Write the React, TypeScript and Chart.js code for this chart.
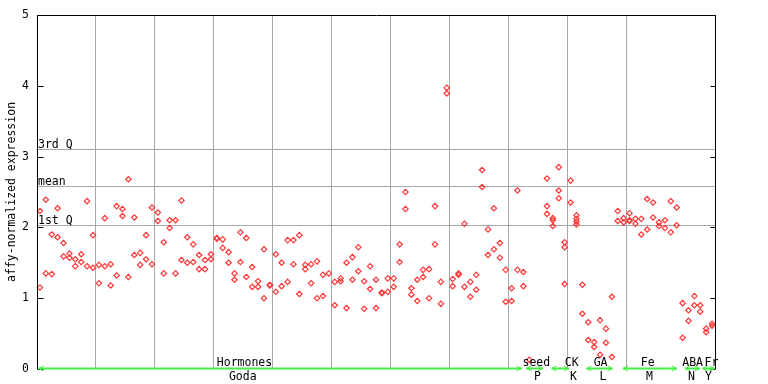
import React, { useEffect, useRef } from 'react';
import { Chart, registerables } from 'chart.js';

Chart.register(...registerables);

// ---- data (sample index 0..114, value = affy-normalized expression) ----
const sampleCount = 115;

const rep1: (number | null)[] = [
  2.23, 2.39, 1.90, 2.27, 1.78, 1.63, 1.55, 1.62, 2.37, 1.89,
  1.47, 2.13, 1.48, 2.30, 2.26, 2.68, 2.14, 1.64, 1.89, 2.28,
  2.21, 1.79, 2.10, 2.10, 2.38, 1.86, 1.76, 1.61, 1.54, 1.62,
  1.84, 1.83, 1.65, 1.35, 1.93, 1.85, 1.44, 1.24, 1.69, 1.19,
  1.62, 1.50, 1.82, 1.82, 1.89, 1.47, 1.48, 1.52, 1.33, 1.35,
  1.23, 1.28, 1.50, 1.58, 1.72, 1.24, 1.45, 1.26, 1.08, 1.28,
  1.28, 1.76, 2.50, 1.14, 1.26, 1.40, 1.41, 2.30, 1.23, 3.97,
  1.27, 1.35, 2.05, 1.23, 1.33, 2.81, 1.97, 2.27, 1.78, 1.40,
  1.14, 2.52, 1.37, 0.13, null, null, 2.69, 2.13, 2.85, 1.79,
  2.66, 2.17, 1.19, 0.66, 0.38, 0.69, 0.57, 1.02, 2.23, 2.13,
  2.20, 2.12, 2.12, 2.40, 2.35, 2.07, 2.10, 2.37, 2.28, 0.93,
  0.83, 1.03, 0.90, 0.57, 0.64,
];

const rep2: (number | null)[] = [
  1.15, 1.35, 1.34, 1.86, 1.59, 1.57, 1.45, 1.51, 1.45, 1.43,
  1.21, 1.45, 1.18, 1.32, 2.16, 1.30, 1.61, 1.47, 1.55, 1.48,
  2.09, 1.35, 1.99, 1.35, 1.54, 1.50, 1.51, 1.41, 1.41, 1.55,
  1.85, 1.71, 1.50, 1.26, 1.51, 1.30, 1.16, 1.16, 1.00, 1.18,
  1.09, 1.17, 1.23, 1.48, 1.06, 1.41, 1.21, 1.00, 1.03, null,
  0.90, 1.24, 0.86, 1.26, 1.38, 0.85, 1.13, 0.86, 1.07, 1.09,
  1.16, 1.51, 2.26, 1.05, 0.96, 1.30, 1.00, 1.76, 0.92, 3.89,
  1.17, 1.33, 1.16, 1.02, 1.12, 2.57, 1.61, 1.69, 1.57, 0.95,
  0.96, 1.40, 1.17, null, null, null, 2.30, 2.10, 2.52, 1.72,
  2.35, 2.12, 0.78, 0.41, 0.31, 0.20, 0.37, 0.17, 2.09, 2.07,
  2.10, 2.05, 1.90, 1.97, 2.14, 2.02, 1.99, 1.93, 2.03, 0.44,
  0.68, 0.90, 0.81, 0.52, 0.61,
];

// extra replicates for a few samples
const rep3Index = [86, 87, 88, 89, 91, 100];
const rep3Value = [2.19, 2.02, 2.41, 1.20, 2.08, 2.09];
const rep4Index = [91];
const rep4Value = [2.04];

const yTickValues = [0, 1, 2, 3, 4, 5];
const refNames = ['3rd Q', 'mean', '1st Q'];
const refValues = [3.10, 2.58, 2.03];

const groupTop = ['Hormones', 'seed', 'CK', 'GA', 'Fe', 'ABA', 'Fr'];
const groupBottom = ['Goda', 'P', 'K', 'L', 'M', 'N', 'Y'];
const groupStart = [0.3, 83.0, 87.3, 93.2, 99.4, 109.9, 112.9];
const groupEnd = [82.2, 85.8, 90.2, 97.6, 108.5, 112.4, 114.9];
const groupTopAt = [35.2, 84.7, 90.7, 95.6, 103.6, 111.2, 114.4];
const groupBottomAt = [34.9, 84.9, 91.0, 96.0, 103.9, 111.0, 113.9];

const yTitle = 'affy-normalized expression';

// ---- helpers ----
const MONO = '"DejaVu Sans Mono", "Liberation Mono", monospace';
const POINT_COLOR = '#ff3636';

function toPoints(vals: (number | null)[]) {
  const out: { x: number; y: number }[] = [];
  vals.forEach((v, i) => {
    if (v !== null && v !== undefined) out.push({ x: i + 0.5, y: v });
  });
  return out;
}
function toPointsIdx(idx: number[], vals: number[]) {
  return idx.map((i, k) => ({ x: i + 0.5, y: vals[k] }));
}

const framePlugin = {
  id: 'framePlugin',
  beforeDatasetsDraw(chart: any) {
    const { ctx, chartArea: a, scales } = chart;
    const y = scales.y;
    ctx.save();
    ctx.strokeStyle = '#a8a8a8';
    ctx.lineWidth = 1;
    ctx.font = `11.5px ${MONO}`;
    ctx.fillStyle = '#000';
    ctx.textAlign = 'left';
    ctx.textBaseline = 'alphabetic';
    refValues.forEach((v, k) => {
      const py = Math.round(y.getPixelForValue(v)) + 0.5;
      ctx.beginPath();
      ctx.moveTo(a.left, py);
      ctx.lineTo(a.right, py);
      ctx.stroke();
      ctx.fillText(refNames[k], a.left + 1, py - 2);
    });
    ctx.restore();
  },
  afterDraw(chart: any) {
    const { ctx, chartArea: a, scales } = chart;
    const x = scales.x;
    const y = scales.y;
    ctx.save();
    // black frame (top, left, right)
    ctx.strokeStyle = '#000';
    ctx.lineWidth = 1;
    const L = Math.round(a.left) + 0.5;
    const R = Math.round(a.right) + 0.5;
    const T = Math.round(a.top) + 0.5;
    const B = Math.round(a.bottom);
    ctx.beginPath();
    ctx.moveTo(L, B);
    ctx.lineTo(L, T);
    ctx.lineTo(R, T);
    ctx.lineTo(R, B);
    ctx.stroke();
    // tick marks pointing inwards
    yTickValues.forEach((v) => {
      const py = Math.round(y.getPixelForValue(v)) + 0.5;
      ctx.beginPath();
      ctx.moveTo(L, py);
      ctx.lineTo(L + 6, py);
      ctx.moveTo(R - 5, py);
      ctx.lineTo(R, py);
      ctx.stroke();
    });
    // green group bars with arrows
    ctx.strokeStyle = '#44ee44';
    ctx.lineWidth = 2;
    const gy = Math.round(a.bottom) - 0.5;
    groupTop.forEach((_, g) => {
      const x1 = x.getPixelForValue(groupStart[g]);
      const x2 = x.getPixelForValue(groupEnd[g]);
      ctx.beginPath();
      ctx.moveTo(x1, gy);
      ctx.lineTo(x2, gy);
      ctx.stroke();
      ctx.lineWidth = 1;
      ctx.beginPath();
      ctx.moveTo(x1 + 5, gy - 2.5);
      ctx.lineTo(x1, gy);
      ctx.lineTo(x1 + 5, gy + 2.5);
      ctx.moveTo(x2 - 5, gy - 2.5);
      ctx.lineTo(x2, gy);
      ctx.lineTo(x2 - 5, gy + 2.5);
      ctx.stroke();
      ctx.lineWidth = 2;
    });
    // group labels
    ctx.fillStyle = '#000';
    ctx.font = `11.5px ${MONO}`;
    ctx.textAlign = 'center';
    ctx.textBaseline = 'alphabetic';
    groupTop.forEach((t, g) => {
      ctx.fillText(t, x.getPixelForValue(groupTopAt[g]), a.bottom - 3);
      ctx.fillText(groupBottom[g], x.getPixelForValue(groupBottomAt[g]), a.bottom + 11);
    });
    // y axis title
    ctx.save();
    ctx.translate(12, (a.top + a.bottom) / 2);
    ctx.rotate(-Math.PI / 2);
    ctx.textAlign = 'center';
    ctx.textBaseline = 'middle';
    ctx.fillText(yTitle, 0, 0);
    ctx.restore();
    ctx.restore();
  },
};

export default function App() {
  const canvasRef = useRef<HTMLCanvasElement | null>(null);

  useEffect(() => {
    const canvas = canvasRef.current;
    if (!canvas) return;
    const ds = (data: { x: number; y: number }[]) => ({
      data,
      pointStyle: 'rectRot' as const,
      pointRadius: 2.7,
      pointBorderWidth: 1.2,
      pointBorderColor: POINT_COLOR,
      pointBackgroundColor: 'rgba(255,255,255,0)',
      borderColor: POINT_COLOR,
      backgroundColor: 'rgba(255,255,255,0)',
      showLine: false,
      clip: false as const,
    });
    const chart = new Chart(canvas, {
      type: 'scatter',
      data: {
        datasets: [
          ds(toPoints(rep1)),
          ds(toPoints(rep2)),
          ds(toPointsIdx(rep3Index, rep3Value)),
          ds(toPointsIdx(rep4Index, rep4Value)),
        ],
      },
      options: {
        animation: false,
        responsive: false,
        devicePixelRatio: 1,
        layout: { padding: { top: 13, right: 53, left: 0, bottom: 0 } },
        plugins: { legend: { display: false }, tooltip: { enabled: false } },
        scales: {
          x: {
            type: 'linear',
            min: 0,
            max: sampleCount,
            ticks: { display: false, stepSize: 10 },
            grid: { color: '#a8a8a8', lineWidth: 1, drawTicks: false },
            border: { display: false },
            afterFit: (s: any) => {
              s.height = 15;
            },
          },
          y: {
            type: 'linear',
            min: 0,
            max: 5,
            ticks: {
              stepSize: 1,
              padding: 8,
              color: '#000',
              font: { family: MONO, size: 11.5 },
            },
            grid: { display: false, drawTicks: false },
            border: { display: false },
            afterFit: (s: any) => {
              s.width = 37;
            },
          },
        },
      },
      plugins: [framePlugin],
    });
    return () => chart.destroy();
  }, []);

  return (
    <div style={{ position: 'fixed', left: 0, top: 0, width: 768, height: 384, background: '#fff' }}>
      <canvas ref={canvasRef} width={768} height={384} style={{ display: 'block' }} />
    </div>
  );
}
